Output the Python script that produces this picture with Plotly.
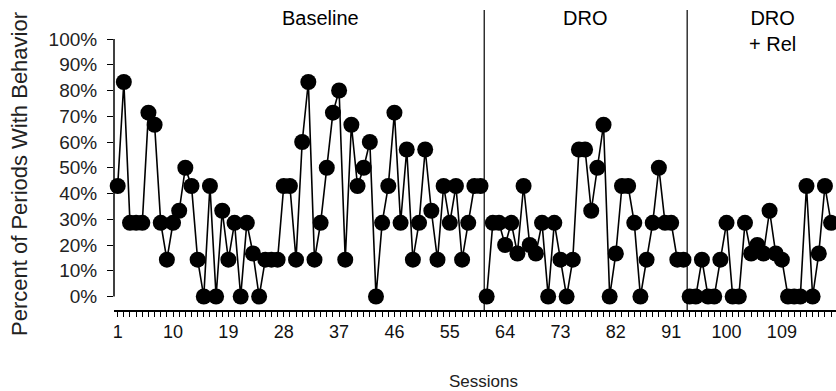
import plotly.graph_objects as go

baseline_sessions = list(range(1, 61))
baseline_values = [42.9, 83.3, 28.6, 28.6, 28.6, 71.4, 66.7, 28.6, 14.3, 28.6,
                   33.3, 50.0, 42.9, 14.3, 0.0, 42.9, 0.0, 33.3, 14.3, 28.6,
                   0.0, 28.6, 16.7, 0.0, 14.3, 14.3, 14.3, 42.9, 42.9, 14.3,
                   60.0, 83.3, 14.3, 28.6, 50.0, 71.4, 80.0, 14.3, 66.7, 42.9,
                   50.0, 60.0, 0.0, 28.6, 42.9, 71.4, 28.6, 57.1, 14.3, 28.6,
                   57.1, 33.3, 14.3, 42.9, 28.6, 42.9, 14.3, 28.6, 42.9, 42.9]

dro_sessions = list(range(61, 94))
dro_values = [0.0, 28.6, 28.6, 20.0, 28.6, 16.7, 42.9, 20.0, 16.7, 28.6,
              0.0, 28.6, 14.3, 0.0, 14.3, 57.1, 57.1, 33.3, 50.0, 66.7,
              0.0, 16.7, 42.9, 42.9, 28.6, 0.0, 14.3, 28.6, 50.0, 28.6,
              28.6, 14.3, 14.3]

rel_sessions = list(range(94, 118))
rel_values = [0.0, 0.0, 14.3, 0.0, 0.0, 14.3, 28.6, 0.0, 0.0, 28.6,
              16.7, 20.0, 16.7, 33.3, 16.7, 14.3, 0.0, 0.0, 0.0, 42.9,
              0.0, 16.7, 42.9, 28.6]

phase_labels = ["Baseline", "DRO", "DRO<br>+ Rel"]
phase_label_x = [34, 77, 107.4]
phase_label_y = [0.973, 0.973, 0.93]
phase_change_x = [60.6, 93.6]

x_tick_labels = [1, 10, 19, 28, 37, 46, 55, 64, 73, 82, 91, 100, 109]
y_tick_vals = [0, 10, 20, 30, 40, 50, 60, 70, 80, 90, 100]
y_tick_text = [f"{v}%" for v in y_tick_vals]

FONT = "Liberation Sans, Arial, sans-serif"

fig = go.Figure()
for xs, ys in [(baseline_sessions, baseline_values),
               (dro_sessions, dro_values),
               (rel_sessions, rel_values)]:
    fig.add_trace(go.Scatter(
        x=xs, y=ys, mode="lines+markers",
        line=dict(color="black", width=1.6),
        marker=dict(color="black", size=16, line=dict(width=0)),
        showlegend=False, cliponaxis=False,
    ))

all_sessions = list(range(1, 118))
tick_text = [str(s) if s in x_tick_labels else "" for s in all_sessions]

fig.update_xaxes(
    range=[0.4, 117.8],
    tickmode="array", tickvals=all_sessions, ticktext=tick_text,
    ticks="outside", ticklen=5, tickwidth=1, tickcolor="black",
    showline=True, linecolor="black", linewidth=1.5,
    showgrid=False, zeroline=False, automargin=False,
    tickfont=dict(family=FONT, size=18, color="#111"),
)
fig.update_yaxes(
    range=[-5.24, 111.26],
    tickmode="array", tickvals=y_tick_vals, ticktext=y_tick_text,
    ticks="outside", ticklen=6, tickwidth=1, tickcolor="black",
    showline=False, showgrid=False, zeroline=False, automargin=False,
    ticklabelstandoff=6,
    tickfont=dict(family=FONT, size=19, color="#222"),
)

# y axis line from 0% to 100%
fig.add_shape(type="line", xref="paper", yref="y", x0=0, x1=0, y0=0, y1=100,
              line=dict(color="black", width=1.5))

for px in phase_change_x:
    fig.add_shape(type="line", xref="x", yref="paper", x0=px, x1=px, y0=0, y1=1.0,
                  line=dict(color="black", width=1.2))

for lab, lx, ly in zip(phase_labels, phase_label_x, phase_label_y):
    fig.add_annotation(x=lx, y=ly, xref="x", yref="paper", text=lab,
                       showarrow=False, yanchor="middle", align="center",
                       font=dict(family=FONT, size=20, color="black"))

fig.add_annotation(x=(483 - 114) / 722, y=-(381 - 310) / 300, xref="paper", yref="paper",
                   text="Sessions", showarrow=False, xanchor="center", yanchor="middle",
                   font=dict(family=FONT, size=17, color="#222"))
fig.add_annotation(x=(19 - 114) / 722, y=(310 - 174) / 300, xref="paper", yref="paper",
                   text="Percent of Periods With Behavior", showarrow=False, textangle=-90,
                   xanchor="center", yanchor="middle",
                   font=dict(family=FONT, size=22, color="#222"))

fig.update_layout(
    width=836, height=391,
    margin=dict(l=114, r=0, t=10, b=81),
    plot_bgcolor="white", paper_bgcolor="white",
)

fig.write_html("out.html", config={"displayModeBar": False},
               post_script="document.body.style.margin='0';document.body.style.padding='0';")
